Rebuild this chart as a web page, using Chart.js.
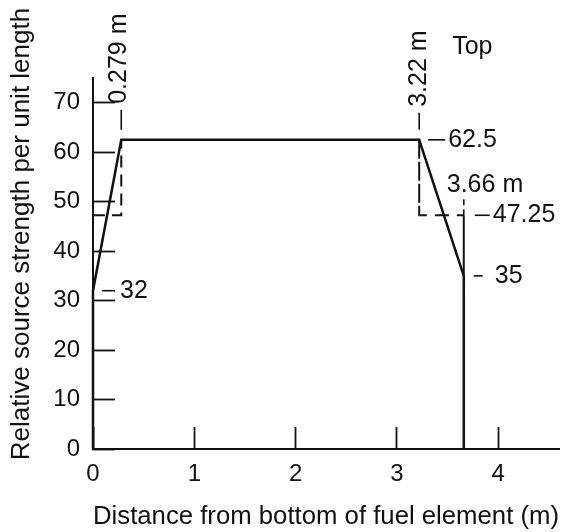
<!DOCTYPE html>
<html>
<head>
<meta charset="utf-8">
<title>Source strength profile</title>
<script src="https://cdn.jsdelivr.net/npm/chart.js@4.4.1/dist/chart.umd.min.js"></script>
<style>
    html, body { margin: 0; padding: 0; background: #fff; }
    #wrap { width: 561px; height: 532px; }
</style>
</head>
<body>
<div id="wrap"><canvas id="chart-profile" width="561" height="532"></canvas></div>
<script>
// axis ticks
var xTicks = [0, 1, 2, 3, 4];
var yTicks = [0, 10, 20, 30, 40, 50, 60, 70];

// source strength along the element: distance (m) / relative strength
var profileX = [0, 0, 0.279, 3.22, 3.66, 3.66];
var profileY = [0, 32, 62.5, 62.5, 35, 0];

// averaged steps over the two end zones (dashed)
var bottomStepX = [0, 0.279, 0.279];
var bottomStepY = [47.25, 47.25, 62.5];
var topStepX = [3.22, 3.22, 3.66, 3.66];
var topStepY = [62.5, 47.25, 47.25, 35];

var FONT = '"Liberation Sans", Arial, Helvetica, sans-serif';
var INK = '#111';

function points(xs, ys) {
    return xs.map(function(x, i) { return {x: x, y: ys[i]}; });
}

function fixedTicks(values) {
    return function(scale) {
        scale.ticks = values.map(function(v) { return {value: v}; });
    };
}

/* leader lines, value labels and the y axis title */
var notesPlugin = {
    id: 'notes',
    afterDraw: function(chart) {
        var ctx = chart.ctx;
        var sx = chart.scales.x, sy = chart.scales.y;
        function px(v) { return sx.getPixelForValue(v); }
        function py(v) { return sy.getPixelForValue(v); }

        function line(x1, y1, x2, y2, dash) {
            ctx.setLineDash(dash || []);
            ctx.beginPath();
            ctx.moveTo(x1, y1);
            ctx.lineTo(x2, y2);
            ctx.stroke();
            ctx.setLineDash([]);
        }
        function text(str, x, y) {
            ctx.textAlign = 'left';
            ctx.textBaseline = 'middle';
            ctx.fillText(str, x, y);
        }
        function upText(str, x, y, align) {
            ctx.save();
            ctx.translate(x, y);
            ctx.rotate(-Math.PI / 2);
            ctx.textAlign = align || 'left';
            ctx.textBaseline = 'middle';
            ctx.fillText(str, 0, 0);
            ctx.restore();
        }

        ctx.save();
        ctx.strokeStyle = INK;
        ctx.fillStyle = INK;
        ctx.lineWidth = 1.6;
        ctx.font = '25px ' + FONT;

        var xLow = profileX[2], xHigh = profileX[3], xEnd = profileX[4];
        var yPeak = py(profileY[2]);
        var yStep = py(bottomStepY[0]);

        // break points along the top
        line(px(xLow), yPeak - 10, px(xLow), yPeak - 30);
        upText(xLow + ' m', px(xLow) - 2, yPeak - 36);
        line(px(xHigh), yPeak - 10, px(xHigh), yPeak - 27);
        upText(xHigh + ' m', px(xHigh), yPeak - 33);
        text('Top', px(xHigh) + 33, chart.chartArea.top - 31);

        // levels on the right
        line(px(xHigh) + 9, yPeak, px(xHigh) + 26, yPeak);
        text(String(profileY[2]), px(xHigh) + 29, yPeak);

        line(px(xEnd), yStep, px(xEnd), yStep - 20, [6, 4]);
        text(xEnd + ' m', px(xEnd) - 17, yStep - 30);

        line(px(xEnd) + 11, yStep, px(xEnd) + 26, yStep);
        text(String(bottomStepY[0]), px(xEnd) + 29, yStep);

        line(px(xEnd) + 10, py(profileY[4]), px(xEnd) + 19, py(profileY[4]));
        text(String(profileY[4]), px(xEnd) + 31, py(profileY[4]));

        // level at the bottom end
        line(px(0) + 9, py(profileY[1]), px(0) + 22, py(profileY[1]));
        text(String(profileY[1]), px(0) + 27, py(profileY[1]));

        // y axis title
        ctx.font = '26px ' + FONT;
        upText('Relative source strength per unit length', 22, 234, 'center');

        ctx.restore();
    }
};

var ctx = document.getElementById('chart-profile');
var chart = new Chart(ctx, {
    type: 'line',
    data: {
        datasets: [{
            data: points(profileX, profileY),
            borderColor: INK,
            borderWidth: 2.5,
            clip: false
        }, {
            data: points(bottomStepX, bottomStepY),
            borderColor: INK,
            borderWidth: 2,
            borderDash: [12, 7],
            clip: false
        }, {
            data: points(topStepX, topStepY),
            borderColor: INK,
            borderWidth: 2,
            clip: false,
            // last drop at the top end runs solid along the element edge
            segment: {
                borderDash: function(c) { return c.p1DataIndex === topStepX.length - 1 ? [] : [14, 8]; }
            }
        }]
    },
    options: {
        responsive: false,
        animation: false,
        devicePixelRatio: 1,
        layout: { padding: { top: 78, right: 2, left: 0, bottom: 0 } },
        elements: {
            point: { radius: 0 },
            line: { tension: 0, fill: false, borderCapStyle: 'butt' }
        },
        plugins: {
            legend: { display: false },
            tooltip: { enabled: false }
        },
        scales: {
            x: {
                type: 'linear',
                min: 0,
                max: 4.6,
                afterBuildTicks: fixedTicks(xTicks),
                afterFit: function(scale) { scale.height = 83; },
                grid: { drawOnChartArea: false, tickLength: -22, tickWidth: 1.8, color: INK },
                border: { color: INK, width: 2 },
                ticks: { padding: 33, color: INK, maxRotation: 0, font: { family: FONT, size: 24 } },
                title: {
                    display: true,
                    text: 'Distance from bottom of fuel element (m)',
                    color: INK,
                    padding: 0,
                    font: { family: FONT, size: 26 }
                }
            },
            y: {
                type: 'linear',
                min: 0,
                max: 75,
                afterBuildTicks: fixedTicks(yTicks),
                afterFit: function(scale) { scale.width = 93; },
                grid: { drawOnChartArea: false, tickLength: -22, tickWidth: 1.8, color: INK },
                border: { color: INK, width: 2 },
                ticks: { padding: 35, color: INK, font: { family: FONT, size: 24 } }
            }
        }
    },
    plugins: [notesPlugin]
});
</script>
</body>
</html>
